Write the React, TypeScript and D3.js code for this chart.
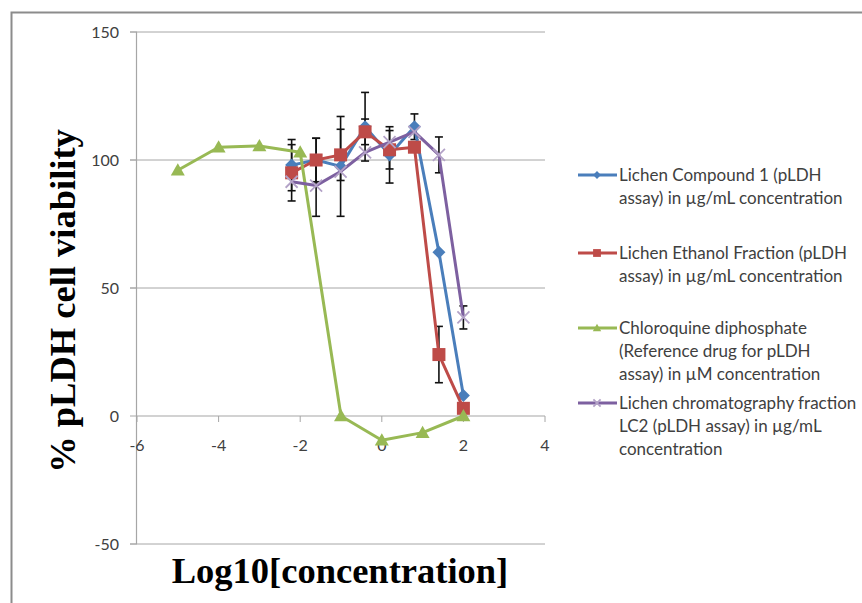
import React from "react";
import * as d3 from "d3";

// log10 concentrations (4-fold dilution series) and chloroquine doses
const lichenX = [-2.21, -1.61, -1.01, -0.41, 0.19, 0.8, 1.4, 2.0];
const cqX = [-5, -4, -3, -2, -1, 0, 1, 2];

const compound1 = [98, 100, 97.5, 113, 102, 113, 64, 8];
const compound1Err = [10, 8.5, 19.5, 13.4, 11, 5, 0, 0];
const ethanol = [95, 100, 102, 111, 104, 105, 24, 3];
const ethanolErr = [11, 8.5, 10, 5, 7.5, 0, 11, 0];
const chloroquine = [96, 105, 105.5, 103, 0, -9.5, -6.5, 0];
const lc2 = [91.5, 90, 95.5, 103, 107, 111, 102, 38.5];
const lc2Err = [0, 12, 0, 0, 0, 0, 7, 4.5];

const xTicks = [-6, -4, -2, 0, 2, 4];
const yTicks = [-50, 0, 50, 100, 150];

const legendLabels = [
  ["Lichen Compound 1 (pLDH", "assay) in \u00b5g/mL concentration"],
  ["Lichen Ethanol Fraction (pLDH", "assay) in \u00b5g/mL concentration"],
  ["Chloroquine diphosphate", "(Reference drug for pLDH", "assay) in \u00b5M concentration"],
  ["Lichen chromatography fraction", "LC2 (pLDH assay) in \u00b5g/mL", "concentration"],
];

const W = 862;
const H = 603;
const x = d3.scaleLinear().domain([-6, 4]).range([137, 545]);
const y = d3.scaleLinear().domain([-50, 150]).range([544, 32]);

const sansFont = "Lato, 'Open Sans', sans-serif";
const serifFont = "'Liberation Serif', 'Times New Roman', serif";

type Series = {
  xs: number[];
  ys: number[];
  err?: number[];
  color: string;
  marker: string;
  markerColor: string;
};

const series: Series[] = [
  { xs: lichenX, ys: compound1, err: compound1Err, color: "#4A7EBB", marker: "diamond", markerColor: "#4A7EBB" },
  { xs: lichenX, ys: ethanol, err: ethanolErr, color: "#BE4B48", marker: "square", markerColor: "#BE4B48" },
  { xs: cqX, ys: chloroquine, color: "#98B954", marker: "triangle", markerColor: "#98B954" },
  { xs: lichenX, ys: lc2, err: lc2Err, color: "#7D60A0", marker: "x", markerColor: "#B3A2C7" },
];

const Marker = ({ kind, cx, cy, color, s = 1 }: { kind: string; cx: number; cy: number; color: string; s?: number }) => {
  if (kind === "diamond") {
    const r = 6.5 * s;
    return <path d={`M${cx},${cy - r}L${cx + r},${cy}L${cx},${cy + r}L${cx - r},${cy}Z`} fill={color} />;
  }
  if (kind === "square") {
    const r = 6.5 * s;
    return <rect x={cx - r} y={cy - r} width={2 * r} height={2 * r} fill={color} />;
  }
  if (kind === "triangle") {
    const r = 7 * s;
    return <path d={`M${cx},${cy - r}L${cx + r},${cy + r * 0.75}L${cx - r},${cy + r * 0.75}Z`} fill={color} />;
  }
  const r = 6 * s;
  return (
    <path
      d={`M${cx - r},${cy - r}L${cx + r},${cy + r}M${cx - r},${cy + r}L${cx + r},${cy - r}`}
      stroke={color}
      strokeWidth={1.8}
    />
  );
};

export default function App() {
  const line = d3
    .line<[number, number]>()
    .x((d) => x(d[0]))
    .y((d) => y(d[1]));

  const legendY = [175, 253, 328, 403];

  return (
    <svg
      width={W}
      height={H}
      style={{ position: "absolute", left: 0, top: 0, background: "#fff" }}
    >
      {/* chart border (left and top visible) */}
      <path d={`M11.5,${H}L11.5,12.5L${W},12.5`} fill="none" stroke="#8c8c8c" strokeWidth={2} />

      {/* gridlines */}
      {yTicks
        .filter((t) => t !== 0)
        .map((t) => (
          <line key={t} x1={130} x2={545} y1={y(t)} y2={y(t)} stroke="#a6a6a6" strokeWidth={1} />
        ))}

      {/* y axis */}
      <line x1={136.5} x2={136.5} y1={y(150)} y2={y(-50)} stroke="#a6a6a6" strokeWidth={1.2} />
      {yTicks.map((t) => (
        <g key={t}>
          <line x1={130} x2={137} y1={y(t)} y2={y(t)} stroke="#a6a6a6" />
          <text
            x={119}
            y={y(t)}
            dy="0.35em"
            textAnchor="end"
            fontFamily={sansFont}
            fontSize={16}
            fill="#404040"
          >
            {t}
          </text>
        </g>
      ))}

      {/* x axis at y = 0 */}
      <line x1={x(-6)} x2={x(4)} y1={y(0)} y2={y(0)} stroke="#a6a6a6" strokeWidth={1.2} />
      {xTicks.map((t) => (
        <g key={t}>
          <line x1={x(t)} x2={x(t)} y1={y(0)} y2={y(0) + 6} stroke="#a6a6a6" />
          <text
            x={x(t)}
            y={445}
            dy="0.35em"
            textAnchor="middle"
            fontFamily={sansFont}
            fontSize={16}
            fill="#404040"
          >
            {t}
          </text>
        </g>
      ))}

      {/* error bars */}
      {series.map((s, si) =>
        s.err
          ? s.xs.map((xv, i) => {
              const e = s.err![i];
              if (!e) return null;
              const cx = x(xv);
              const t = y(s.ys[i] + e);
              const b = y(s.ys[i] - e);
              return (
                <g key={`e${si}-${i}`} stroke="#111" strokeWidth={1.6}>
                  <line x1={cx} x2={cx} y1={t} y2={b} />
                  <line x1={cx - 4} x2={cx + 4} y1={t} y2={t} />
                  <line x1={cx - 4} x2={cx + 4} y1={b} y2={b} />
                </g>
              );
            })
          : null
      )}

      {/* series lines + markers */}
      {series.map((s, si) => (
        <g key={`s${si}`}>
          <path
            d={line(s.xs.map((xv, i) => [xv, s.ys[i]] as [number, number])) || ""}
            fill="none"
            stroke={s.color}
            strokeWidth={3}
            strokeLinejoin="round"
          />
          {s.xs.map((xv, i) => (
            <Marker key={i} kind={s.marker} cx={x(xv)} cy={y(s.ys[i])} color={s.markerColor} />
          ))}
        </g>
      ))}

      {/* axis titles */}
      <text
        transform={`translate(62,${301}) rotate(-90)`}
        textAnchor="middle"
        dy="0.35em"
        fontFamily={serifFont}
        fontWeight="bold"
        fontSize={36.5}
        fill="#000"
      >
        % pLDH cell viability
      </text>
      <text
        x={340}
        y={583}
        textAnchor="middle"
        fontFamily={serifFont}
        fontWeight="bold"
        fontSize={36.5}
        fill="#000"
      >
        Log10[concentration]
      </text>

      {/* legend */}
      {series.map((s, si) => (
        <g key={`l${si}`}>
          <line x1={578} x2={617} y1={legendY[si]} y2={legendY[si]} stroke={s.color} strokeWidth={3} />
          <Marker kind={s.marker} cx={597} cy={legendY[si]} color={s.markerColor} s={0.6} />
          {legendLabels[si].map((txt, li) => (
            <text
              key={li}
              x={619}
              y={legendY[si] + li * 23}
              dy="0.35em"
              fontFamily={sansFont}
              fontSize={17}
              fill="#404040"
            >
              {txt}
            </text>
          ))}
        </g>
      ))}
    </svg>
  );
}
